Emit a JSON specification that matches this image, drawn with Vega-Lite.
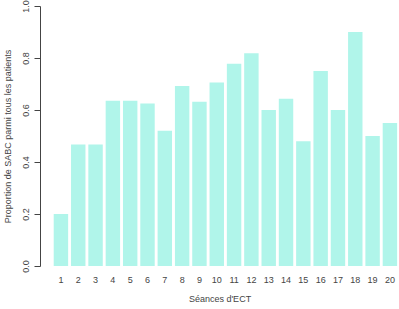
{
  "$schema": "https://vega.github.io/schema/vega-lite/v6.json",
  "width": 359,
  "height": 260,
  "autosize": {"type": "none"},
  "padding": {"left": 40, "top": 6, "right": 0, "bottom": 43},
  "background": "white",
  "config": {"view": {"stroke": null}, "font": "Liberation Sans"},
  "data": {"values": [
    {"seance": 1, "p": 0.2},
    {"seance": 2, "p": 0.467},
    {"seance": 3, "p": 0.467},
    {"seance": 4, "p": 0.636},
    {"seance": 5, "p": 0.636},
    {"seance": 6, "p": 0.625},
    {"seance": 7, "p": 0.52},
    {"seance": 8, "p": 0.692},
    {"seance": 9, "p": 0.632},
    {"seance": 10, "p": 0.706},
    {"seance": 11, "p": 0.778},
    {"seance": 12, "p": 0.818},
    {"seance": 13, "p": 0.6},
    {"seance": 14, "p": 0.643},
    {"seance": 15, "p": 0.48},
    {"seance": 16, "p": 0.75},
    {"seance": 17, "p": 0.6},
    {"seance": 18, "p": 0.9},
    {"seance": 19, "p": 0.5},
    {"seance": 20, "p": 0.55}
  ]},
  "mark": {"type": "bar", "color": "#b0f5ea"},
  "encoding": {
    "x": {
      "field": "seance", "type": "ordinal",
      "scale": {"paddingInner": 0.1667, "paddingOuter": 0.45, "align": 0.88},
      "axis": {
        "title": "Séances d'ECT", "titleFontSize": 9, "titleFontWeight": "normal", "titleColor": "#444",
        "titlePadding": 10,
        "labelAngle": 0, "labelFontSize": 9, "labelColor": "#444", "labelPadding": 9,
        "domain": false, "ticks": false, "grid": false
      }
    },
    "y": {
      "field": "p", "type": "quantitative",
      "scale": {"domain": [0, 1], "nice": false},
      "axis": {
        "title": "Proportion de SABC parmi tous les patients", "titleFontSize": 9, "titleFontWeight": "normal", "titleColor": "#444",
        "titlePadding": 9,
        "values": [0, 0.2, 0.4, 0.6, 0.8, 1.0], "format": ".1f",
        "labelAngle": -90, "labelAlign": "center", "labelBaseline": "bottom", "labelFontSize": 9, "labelColor": "#444", "labelPadding": 4,
        "domainColor": "#444", "tickColor": "#444", "tickSize": 6, "grid": false,
        "offset": 0
      }
    }
  }
}
